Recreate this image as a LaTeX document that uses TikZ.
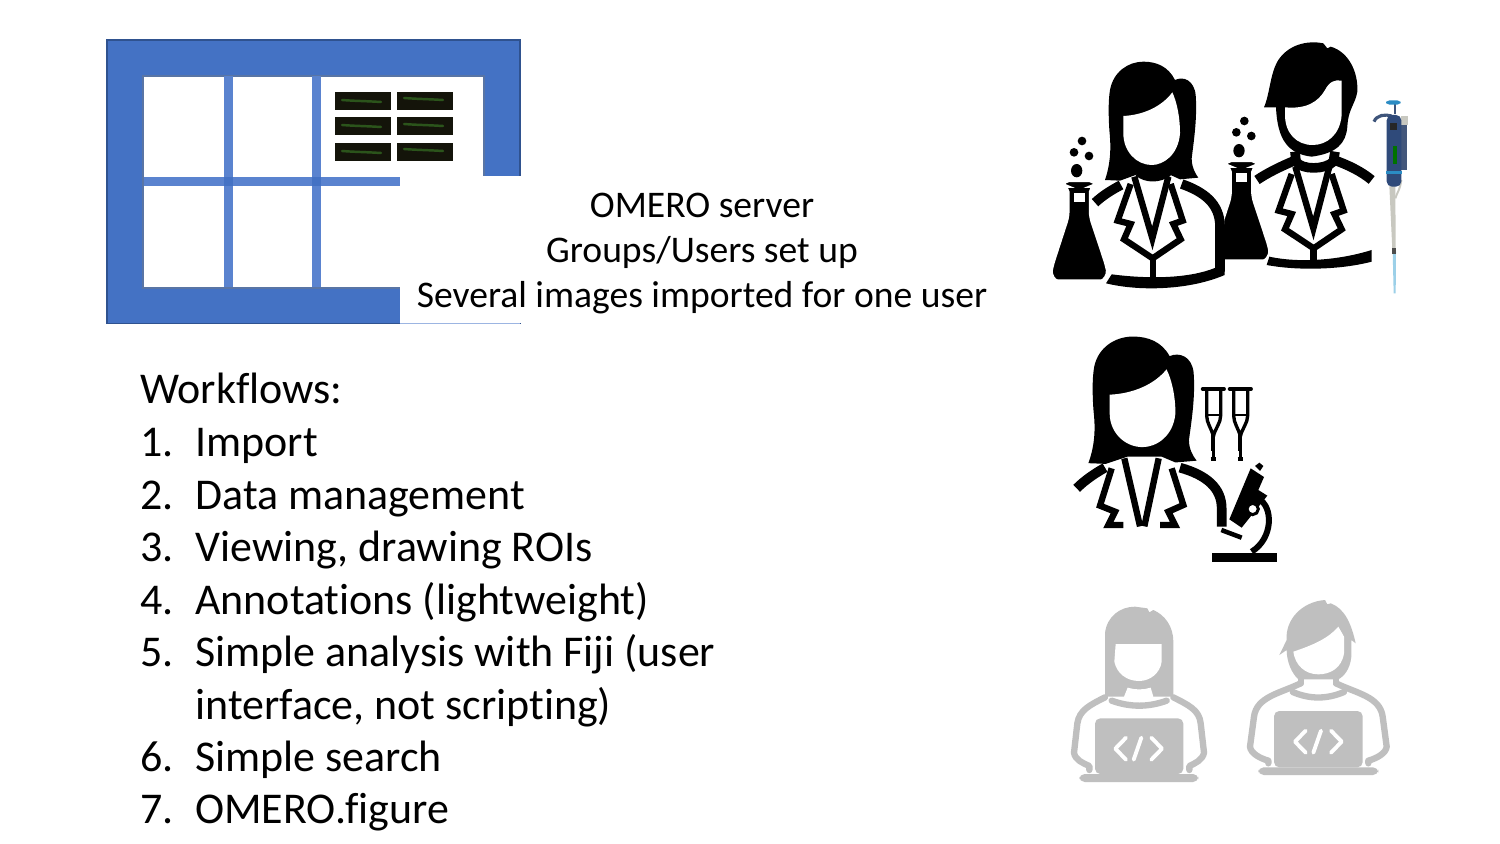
\documentclass[tikz,border=0pt]{standalone}
\usepackage{fontspec}
\setmainfont[Ligatures=NoCommon]{Carlito}
\definecolor{tblue}{HTML}{4472C4}
\definecolor{tline}{HTML}{5A83CF}
\definecolor{tedge}{HTML}{2F528F}
\definecolor{gicon}{HTML}{BFBFBF}
\definecolor{thumb}{HTML}{14140A}
\definecolor{thumbg}{HTML}{3F8A2A}
\definecolor{pipb}{HTML}{2F4A7A}
\definecolor{pipc}{HTML}{2B8CC4}
\definecolor{pipg}{HTML}{C8C8C0}
\definecolor{pipt}{HTML}{9CD0E8}
\tikzset{
 topline/.style={font=\fontsize{21.4}{25}\selectfont,anchor=base},
 listline/.style={font=\fontsize{25}{29}\selectfont,anchor=base west},
 ico/.style={line width=5.5pt,line join=round,line cap=butt},
 icothin/.style={line width=3.6pt,line join=miter,line cap=butt},
 gico/.style={draw=gicon,line width=3.6pt,line join=round,line cap=round},
}
\newcommand{\thumbnail}[3]{%
  \fill[thumb] (#1,#2) rectangle ++(56,18);
  \draw[thumbg,line width=1.4pt,opacity=.55,line cap=round] (#1+7,#2+#3) .. controls (#1+20,#2+#3+1) and (#1+30,#2+#3+1) .. (#1+46,#2+#3+2);
}
\newcommand{\femalehead}{%
  \fill[black] (195,450) .. controls (215,390) and (212,340) .. (208,300)
    .. controls (205,250) and (205,210) .. (210,180)
    .. controls (220,125) and (265,95) .. (310,95)
    .. controls (350,95) and (385,110) .. (405,150)
    .. controls (430,138) and (462,150) .. (467,195)
    .. controls (472,260) and (462,330) .. (455,385)
    .. controls (455,410) and (465,430) .. (475,443)
    -- (420,448) -- (385,432) -- (295,432) -- (240,452) -- cycle;
  \fill[white] (250,258) .. controls (310,255) and (365,230) .. (397,187)
    .. controls (410,215) and (420,260) .. (420,310)
    .. controls (415,375) and (370,405) .. (335,405)
    .. controls (290,405) and (250,365) .. (250,310) -- cycle;
}
\newcommand{\lapelsfemale}{%
  \draw[icothin] (283,440) -- (337,625) -- (385,440);
  \draw[icothin] (272,462) -- (233,572) -- (272,582) -- (252,628) -- (338,685) -- (422,628) -- (400,582) -- (428,572) -- (392,462);
}
\newcommand{\flaskshape}{%
  \filldraw[fill=black,draw=white,line width=1.4pt,rounded corners=3pt] (70,453) -- (165,453) -- (165,470) -- (150,470) -- (150,560)
     -- (198,705) .. controls (204,735) and (190,752) .. (168,752) -- (68,752)
     .. controls (45,752) and (32,735) .. (38,705) -- (85,560) -- (85,470) -- (70,470) -- cycle;
  \fill[white] (102,490) rectangle (135,516);
  \fill[black] (126,333) circle (13) (102,367) circle (13) (147,378) circle (13);
  \fill[black] (110,422) ellipse (17 and 20);
}
\newcommand{\crutch}{%
  \draw[line width=2.2pt,line cap=round] (428,192) -- (492,192);
  \draw[line width=1.9pt] (440,195) -- (440,272) .. controls (440,295) and (455,310) .. (460,335)
     .. controls (465,310) and (482,295) .. (482,272) -- (482,195);
  \draw[line width=1.2pt] (440,270) -- (482,270);
  \draw[line width=2.4pt] (460,330) -- (460,378);
  \draw[line width=1.5pt] (460,378) -- (460,402);
  \draw[line width=1.8pt] (452,402) -- (468,402);
}
\newcommand{\codemark}[2]{%
  \begin{scope}[shift={(#1,#2)}]
   \draw[white,line width=2.2pt,line cap=round,line join=round]
     (-38,-33) -- (-70,0) -- (-38,33)
     (8,-33) -- (-15,33)
     (38,-33) -- (70,0) -- (38,33);
  \end{scope}
}
\begin{document}
\begin{tikzpicture}[x=0.02cm,y=-0.02cm]
\useasboundingbox (0,0) rectangle (1500,844);
\fill[white] (0,0) rectangle (1500,844);

% ----- table
\filldraw[fill=tblue,draw=tedge,line width=.7pt] (107,40) rectangle (520,323.5);
\filldraw[fill=white,draw=tedge!80,line width=.7pt] (143,76) rectangle (484,288);
\fill[tline] (224,76.5) rectangle (232.7,287.5);
\fill[tline] (312,76.5) rectangle (320.5,287.5);
\fill[tline] (143.5,177.5) rectangle (400,186);
\fill[tblue] (224,177.5) rectangle (232.7,186);
\fill[tblue] (312,177.5) rectangle (320.5,186);
\fill[white] (400,176) rectangle (521,322.8);
\draw[tline!60,line width=.9pt] (400,323.5) -- (520,323.5);
\thumbnail{335}{92}{8}
\thumbnail{397}{92}{6}
\thumbnail{335}{117}{8}
\thumbnail{397}{117}{7}
\thumbnail{335}{143}{8}
\thumbnail{397}{143}{6}

% ----- texts
\node[topline] (t1) at (702,218) {OMERO server};
\node[topline] (t2) at (702,263) {Groups/Users set up};
\node[topline] (t3) at (702,308) {Several images imported for one user};
\node[listline,inner sep=0pt] (wf) at (140,403) {Workflows:};
\foreach \n/\yy/\tx in {1/456/Import,2/509/Data management,3/561/{Viewing, drawing ROIs},4/614/Annotations (lightweight),5/666/{Simple analysis with Fiji (user},6/771/Simple search,7/823/OMERO.figure}{
  \node[listline,inner sep=0pt] (n\n) at (140,\yy) {\n.};
  \node[listline,inner sep=0pt] (l\n) at (195,\yy) {\tx};
}
\node[listline,inner sep=0pt] (l5b) at (195,719) {interface, not scripting)};

% ----- scientists
\begin{scope}[shift={(1040,30)},scale=1/3]
  % second flask (behind woman)
  \begin{scope}[shift={(487,-60)}]\flaskshape\end{scope}
  % man
  \fill[white] (650,440) -- (760,385) -- (880,385) -- (995,440) -- (995,690) -- (690,690) -- cycle;
  \fill[black] (672,232) .. controls (690,190) and (690,130) .. (715,90)
    .. controls (745,45) and (800,30) .. (850,40) -- (862,55) -- (872,50)
    .. controls (925,65) and (955,125) .. (952,185)
    .. controls (945,225) and (925,235) .. (922,290)
    .. controls (918,340) and (890,370) .. (815,380)
    .. controls (745,372) and (712,330) .. (708,232) -- cycle;
  \fill[white] (735,232) .. controls (800,238) and (835,215) .. (855,180)
    .. controls (868,155) and (885,148) .. (905,152)
    -- (905,255) .. controls (900,315) and (860,345) .. (818,345)
    .. controls (770,345) and (735,310) .. (735,255) -- cycle;
  \draw[ico] (765,365) -- (768,395) .. controls (785,420) and (855,420) .. (880,395) -- (885,365);
  \draw[ico] (651,450) .. controls (680,430) and (720,410) .. (768,390);
  \draw[ico] (882,390) .. controls (925,405) and (965,425) .. (995,450);
  \begin{scope}[shift={(483,-30)}]\lapelsfemale\end{scope}
  \draw[icothin] (820,650) -- (820,695);
  \fill[black] (688,680) .. controls (780,700) and (900,690) .. (995,660) -- (995,695)
    .. controls (900,720) and (770,722) .. (680,705) -- cycle;
  % woman
  \fill[white] (165,520) -- (240,450) -- (430,450) -- (553,530) -- (553,745) -- (205,760) -- (225,600) -- cycle;
  \femalehead
  \draw[ico] (165,518) .. controls (190,495) and (215,480) .. (243,465);
  \draw[ico] (425,462) .. controls (490,485) and (540,520) .. (540,590) -- (540,725);
  \draw[ico] (295,425) .. controls (320,445) and (355,445) .. (385,425);
  \lapelsfemale
  \draw[icothin] (338,680) -- (338,745);
  \fill[black] (215,733) .. controls (330,748) and (450,745) .. (527,713) -- (554,713) -- (554,735)
    .. controls (450,780) and (300,785) .. (198,760) -- cycle;
  % first flask
  \flaskshape
  % pipette
  \fill[pipg] (1048,468) -- (1066,468) -- (1067,660) -- (1057,660) -- cycle;
  \draw[pipg,line width=1.1pt] (1084,450) .. controls (1080,480) and (1070,490) .. (1066,505);
  \fill[pipt] (1058,665) -- (1068,665) -- (1067,790) -- (1061,790) -- cycle;
  \fill[black!70] (1057,655) rectangle (1068,672);
  \fill[pipb!80!gray] (1062,222) rectangle (1068,252);
  \fill[pipc,rounded corners=2pt] (1038,211) rectangle (1082,224);
  \fill[pipg] (1082,258) rectangle (1105,285);
  \fill[pipb!75!gray] (1082,285) rectangle (1100,420);
  \draw[pipb!80!gray,line width=1.8pt] (1002,275) .. controls (1010,255) and (1035,252) .. (1055,258);
  \fill[pipb,rounded corners=3pt] (1040,255) -- (1084,255) -- (1084,470) -- (1040,470) -- cycle;
  \fill[pipc] (1038,422) rectangle (1086,433);
  \fill[black!85] (1050,278) rectangle (1072,300);
  \fill[green!45!black] (1058,348) rectangle (1071,402);
\end{scope}

% ----- clinician
\begin{scope}[shift={(1060,325)},scale=1/3]
  \begin{scope}[shift={(-141,-67)},xscale=1.16,yscale=1.07]\femalehead\end{scope}
  \draw[ico] (50,490) .. controls (75,465) and (105,445) .. (135,428);
  \draw[ico] (360,428) .. controls (440,450) and (485,490) .. (485,550) -- (485,605);
  \draw[icothin] (155,430) -- (120,542) -- (165,560) -- (145,600) -- (190,600);
  \draw[icothin] (193,400) -- (240,604);
  \draw[icothin] (296,400) -- (253,604);
  \draw[icothin] (335,430) -- (370,540) -- (325,560) -- (345,600) -- (300,600);
  \crutch
  \begin{scope}[xshift=1.62cm]\crutch\end{scope}
  % microscope
  \fill[black] (455,683) rectangle (652,711);
  \fill[black] (572,430) -- (612,456) -- (595,495) -- (622,512) -- (545,608) -- (508,583) -- cycle;
  \fill[black] (585,423) -- (598,413) -- (610,423) -- (600,438) -- cycle;
  \draw[line width=3.4pt] (596,522) .. controls (640,545) and (640,640) .. (575,680);
  \filldraw[fill=white,draw=black,line width=1.7pt] (578,552) circle (17);
  \draw[line width=2.6pt] (484,615) -- (545,638);
\end{scope}

% ----- programmers
\begin{scope}[shift={(1060,590)},scale=1/3]
  % grey woman
  \fill[gicon] (135,320) -- (135,130) .. controls (140,80) and (180,50) .. (225,50)
    -- (262,55) -- (268,67) -- (280,60) .. controls (315,75) and (340,110) .. (340,155) -- (340,320) -- cycle;
  \fill[white] (167,162) -- (305,162) -- (305,215) .. controls (300,250) and (270,273) .. (237,273)
    .. controls (200,273) and (170,250) .. (163,215) -- cycle;
  \fill[white] (203,293) .. controls (225,300) and (250,300) .. (272,293) -- (280,320) .. controls (250,327) and (220,327) .. (192,320) -- cycle;
  \draw[gico] (155,332) .. controls (210,352) and (265,352) .. (320,332);
  \draw[gico] (135,322) .. controls (90,345) and (58,360) .. (52,400) -- (42,488) .. controls (45,510) and (70,520) .. (88,528) -- (88,540);
  \draw[gico] (340,322) .. controls (385,345) and (418,360) .. (422,400) -- (432,488) .. controls (428,510) and (405,520) .. (388,528) -- (388,540);
  \fill[gicon,rounded corners=3pt] (105,385) rectangle (370,552);
  \fill[gicon,rounded corners=3pt] (58,552) rectangle (415,576);
  \codemark{236}{476}
  % grey man
  \fill[gicon] (658,195) -- (680,150) .. controls (675,90) and (725,35) .. (795,30) -- (802,43) -- (812,40)
    .. controls (855,55) and (875,105) .. (887,160) -- (874,150) -- (874,200) .. controls (870,240) and (850,260) .. (835,268)
    -- (715,268) .. controls (695,250) and (680,215) .. (680,180) -- cycle;
  \fill[white] (700,185) .. controls (760,165) and (805,145) .. (835,110) -- (852,140) -- (852,190)
    .. controls (845,235) and (810,253) .. (775,253) .. controls (735,253) and (705,225) .. (700,185) -- cycle;
  \draw[gico] (722,262) -- (722,280) (828,262) -- (828,280);
  \draw[gico] (698,306) .. controls (750,328) and (800,328) .. (852,306);
  \draw[gico] (722,280) .. controls (660,310) and (590,320) .. (582,380) -- (570,470) .. controls (572,490) and (600,505) .. (625,512) -- (625,520);
  \draw[gico] (828,280) .. controls (890,310) and (960,320) .. (968,380) -- (980,470) .. controls (978,490) and (950,505) .. (925,512) -- (925,520);
  \fill[gicon,rounded corners=3pt] (642,363) rectangle (908,532);
  \fill[gicon,rounded corners=3pt] (595,532) rectangle (955,555);
  \codemark{775}{455}
\end{scope}
\end{tikzpicture}
\end{document}
